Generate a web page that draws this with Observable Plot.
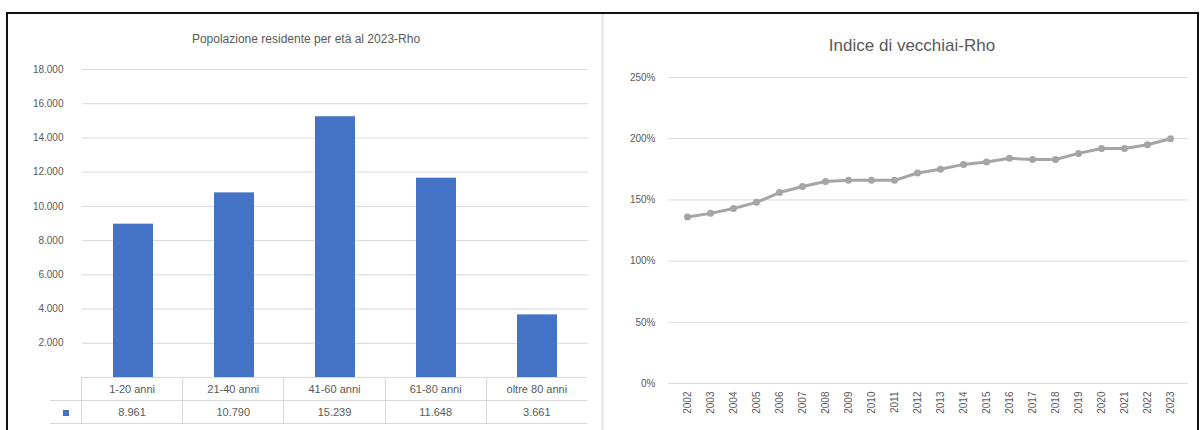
<!DOCTYPE html>
<html><head><meta charset="utf-8">
<script src="https://cdn.jsdelivr.net/npm/d3@7"></script>
<script src="https://cdn.jsdelivr.net/npm/@observablehq/plot@0.6"></script>
<style>
html,body{margin:0;padding:0;background:#fff;width:1203px;height:430px;overflow:hidden;font-family:"Liberation Sans",Arial,sans-serif;}
#frame{position:absolute;left:6px;top:12px;width:1189px;height:430px;border-top:2px solid #111;border-left:2px solid #111;border-right:2px solid #111;}
.abs{position:absolute;}
.title{color:#595959;white-space:nowrap;transform:translateX(-50%);}
#sep{position:absolute;left:601px;top:14px;width:3px;height:416px;background:#ececec;}
table{border-collapse:collapse;font-size:11px;color:#595959;}
td{border:1px solid #d9d9d9;text-align:center;padding:0;height:22px;}
</style></head>
<body>
<div id="frame"></div>
<div id="sep"></div>
<div id="left" class="abs" style="left:8px;top:14px;"></div>
<div id="right" class="abs" style="left:605px;top:14px;"></div>
<div class="abs title" style="left:306px;top:32px;font-size:12px;">Popolazione residente per età al 2023-Rho</div>
<div class="abs title" style="left:912px;top:36px;font-size:17px;">Indice di vecchiai-Rho</div>
<div id="tbl" class="abs" style="left:50px;top:377px;"></div>
<script>
const ageGroups = ["1-20 anni","21-40 anni","41-60 anni","61-80 anni","oltre 80 anni"];
const residents = [8961, 10790, 15239, 11648, 3661];
const popTicks = [2000,4000,6000,8000,10000,12000,14000,16000,18000];

const years = ["2002","2003","2004","2005","2006","2007","2008","2009","2010","2011","2012","2013","2014","2015","2016","2017","2018","2019","2020","2021","2022","2023"];
const oldAgeIndex = [136,139,143,148,156,161,165,166,166,166,172,175,179,181,184,183,183,188,192,192,195,200];
const pctTicks = [0,50,100,150,200,250];

const fmtIt = d => d3.format(",")(d).replace(/,/g, ".");
const blue = "#4472c4";
const txt = "#595959";

const barData = ageGroups.map((g,i)=>({g, v: residents[i]}));
const left = Plot.plot({
  width: 590, height: 365,
  marginTop: 55, marginBottom: 2, marginLeft: 74, marginRight: 10,
  style: {fontFamily: "Liberation Sans, Arial, sans-serif", fontSize: "10px", color: txt, background: "transparent"},
  x: {domain: ageGroups, paddingInner: 0.6, paddingOuter: 0.3, axis: null},
  y: {domain: [0, 18000], ticks: popTicks, tickFormat: fmtIt, tickSize: 0, tickPadding: 19, label: null},
  marks: [
    Plot.gridY(popTicks, {stroke: "#d9d9d9", strokeOpacity: 1}),
    Plot.barY(barData, {x: "g", y: "v", fill: blue})
  ]
});
document.getElementById("left").appendChild(left);

// data table beneath the bar chart
const tbl = document.createElement("table");
const r1 = tbl.insertRow(), r2 = tbl.insertRow();
const c0 = r1.insertCell(); c0.style.width = "31px"; c0.style.borderTop = "none"; c0.style.borderLeft = "none";
const l0 = r2.insertCell(); l0.style.borderLeft = "none";
l0.innerHTML = `<span style="display:inline-block;width:6px;height:6px;background:${blue}"></span>`;
ageGroups.forEach((g,i)=>{
  const a = r1.insertCell(); a.textContent = g; a.style.width = "100.2px";
  const b = r2.insertCell(); b.textContent = fmtIt(residents[i]);
});
r1.cells[ageGroups.length].style.borderRight = "none";
r2.cells[ageGroups.length].style.borderRight = "none";
document.getElementById("tbl").appendChild(tbl);

const lineData = years.map((y,i)=>({y, v: oldAgeIndex[i]}));
const right = Plot.plot({
  width: 590, height: 414,
  marginTop: 63, marginBottom: 45, marginLeft: 63, marginRight: 7,
  style: {fontFamily: "Liberation Sans, Arial, sans-serif", fontSize: "10px", color: txt, background: "transparent"},
  x: {type: "point", domain: years, padding: 0.5, tickSize: 0, tickPadding: 8, tickRotate: -90, label: null},
  y: {domain: [0, 250], ticks: pctTicks, tickFormat: d => d + "%", tickSize: 0, tickPadding: 13, label: null},
  marks: [
    Plot.gridY(pctTicks, {stroke: "#d9d9d9", strokeOpacity: 1}),
    Plot.line(lineData, {x: "y", y: "v", stroke: "#a5a5a5", strokeWidth: 3}),
    Plot.dot(lineData, {x: "y", y: "v", fill: "#a5a5a5", r: 3.5})
  ]
});
document.getElementById("right").appendChild(right);
</script>
</body></html>
